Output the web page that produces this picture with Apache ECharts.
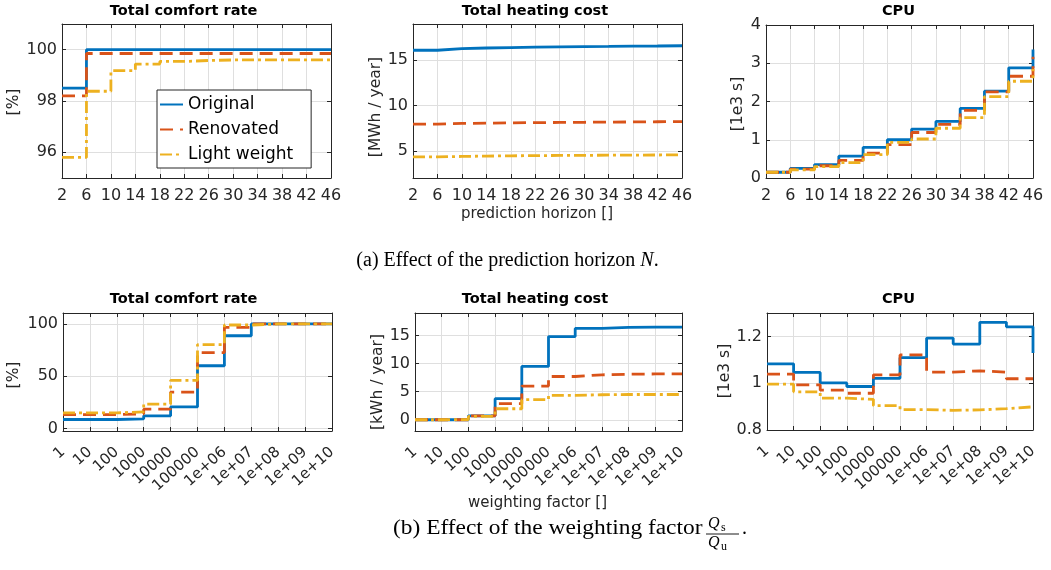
<!DOCTYPE html>
<html>
<head>
<meta charset="utf-8">
<script src="https://cdn.jsdelivr.net/npm/echarts@6/dist/echarts.min.js"></script>
<style>
  html, body { margin: 0; padding: 0; background: #fff; }
  #chart { width: 1051px; height: 570px; }
</style>
</head>
<body>
<div id="chart"></div>
<script>
// ---- Sweep over the prediction horizon N ----
const horizons = [2, 6, 10, 14, 18, 22, 26, 30, 34, 38, 42, 46];
const comfortOriginalN  = [98.5, 100, 100, 100, 100, 100, 100, 100, 100, 100, 100, 100];
const comfortRenovatedN = [98.2, 99.85, 99.85, 99.85, 99.85, 99.85, 99.85, 99.85, 99.85, 99.85, 99.85, 99.85];
const comfortLightN     = [95.8, 98.38, 99.18, 99.44, 99.54, 99.58, 99.6, 99.6, 99.6, 99.6, 99.6, 99.6];
const costOriginalN     = [16.1, 16.28, 16.35, 16.4, 16.44, 16.47, 16.5, 16.52, 16.55, 16.57, 16.6, 16.62];
const costRenovatedN    = [7.95, 8.02, 8.06, 8.09, 8.11, 8.13, 8.15, 8.17, 8.19, 8.21, 8.23, 8.24];
const costLightN        = [4.33, 4.38, 4.42, 4.45, 4.47, 4.49, 4.5, 4.52, 4.53, 4.54, 4.55, 4.56];
const cpuOriginalN      = [0.15, 0.25, 0.35, 0.57, 0.80, 1.0, 1.28, 1.48, 1.82, 2.27, 2.88, 3.36];
const cpuRenovatedN     = [0.15, 0.23, 0.32, 0.46, 0.65, 0.87, 1.19, 1.40, 1.77, 2.25, 2.66, 3.17];
const cpuLightN         = [0.15, 0.21, 0.30, 0.40, 0.61, 0.93, 1.02, 1.30, 1.58, 2.13, 2.53, 2.85];

// ---- Sweep over the weighting factor Qs/Qu ----
const weightLabels = ['1', '10', '100', '1000', '10000', '100000', '1e+06', '1e+07', '1e+08', '1e+09', '1e+10'];
const comfortOriginalW  = [8.5, 8.5, 9.2, 12, 20.6, 60, 88.7, 100, 100, 100, 100];
const comfortRenovatedW = [13.2, 13.2, 13.9, 18.4, 34.8, 72.6, 96.8, 100, 100, 100, 100];
const comfortLightW     = [14.8, 14.8, 15.8, 23.2, 46, 80.3, 99, 100, 100, 100, 100];
const costOriginalW     = [0, 0, 0.7, 3.75, 9.5, 14.8, 16.25, 16.45, 16.5, 16.5, 16.5];
const costRenovatedW    = [0, 0, 0.7, 2.86, 6.0, 7.7, 8.0, 8.1, 8.15, 8.15, 8.15];
const costLightW        = [0, 0.05, 0.6, 1.96, 3.57, 4.35, 4.45, 4.5, 4.5, 4.5, 4.5];
const cpuOriginalW      = [1.083, 1.046, 1.001, 0.986, 1.021, 1.109, 1.193, 1.167, 1.26, 1.241, 1.129];
const cpuRenovatedW     = [1.039, 0.993, 0.970, 0.957, 1.036, 1.121, 1.047, 1.053, 1.047, 1.019, 1.02];
const cpuLightW         = [0.996, 0.963, 0.936, 0.931, 0.904, 0.887, 0.884, 0.886, 0.891, 0.899, 0.90];

// ---- Y tick labels per panel ----
const comfortTicksN = [96, 98, 100];
const costTicksN    = [5, 10, 15];
const cpuTicksN     = [0, 1, 2, 3, 4];
const comfortTicksW = [0, 50, 100];
const costTicksW    = [0, 5, 10, 15];
const cpuTicksW     = [0.8, 1, 1.2];

const variantNames = ['Original', 'Renovated', 'Light weight'];

// ---- Styling ----
const SANS = 'DejaVu Sans';
const SERIF = 'Liberation Serif';
const INK = '#262626';
const GRIDLINE = '#dfdfdf';
const COLORS = ['#0072BD', '#D95319', '#EDB120'];
const DASHES = ['solid', [13, 7], [12, 4, 3, 4]];
const LINE_W = 2.8;

const panels = [
  { sweep: 'N', title: 'Total comfort rate', rect: [62, 24, 269, 154], y: [95, 101, 2], ticks: comfortTicksN,
    values: [comfortOriginalN, comfortRenovatedN, comfortLightN], titleAt: [183.5, 11],
    yName: '[%]', yNameAt: [14, 102] },
  { sweep: 'N', title: 'Total heating cost', rect: [413, 24, 269, 154], y: [2, 19, 5], ticks: costTicksN,
    values: [costOriginalN, costRenovatedN, costLightN], titleAt: [535, 11],
    yName: '[MWh / year]', yNameAt: [375.5, 107] },
  { sweep: 'N', title: 'CPU', rect: [766, 25, 267, 153], y: [0, 4, 1], ticks: cpuTicksN,
    values: [cpuOriginalN, cpuRenovatedN, cpuLightN], titleAt: [898.5, 11],
    yName: '[1e3 s]', yNameAt: [737.5, 104] },
  { sweep: 'W', title: 'Total comfort rate', rect: [63, 313, 269, 118], y: [-2.5, 110.5, 50], ticks: comfortTicksW,
    values: [comfortOriginalW, comfortRenovatedW, comfortLightW], titleAt: [183.5, 299.5],
    yName: '[%]', yNameAt: [14, 375] },
  { sweep: 'W', title: 'Total heating cost', rect: [415, 313, 267, 118], y: [-2, 19, 5], ticks: costTicksW,
    values: [costOriginalW, costRenovatedW, costLightW], titleAt: [535, 299.5],
    yName: '[kWh / year]', yNameAt: [377.5, 382] },
  { sweep: 'W', title: 'CPU', rect: [767, 313, 266, 117], y: [0.8, 1.3, 0.2], ticks: cpuTicksW,
    values: [cpuOriginalW, cpuRenovatedW, cpuLightW], titleAt: [898.5, 299.5],
    yName: '[1e3 s]', yNameAt: [724.5, 371] }
];

const grids = [], xAxes = [], yAxes = [], series = [], graphics = [];

function tickFormatter(list) {
  return function (v) {
    const hit = list.find(t => Math.abs(t - v) < 1e-9);
    return hit === undefined ? '' : String(hit);
  };
}

panels.forEach((p, i) => {
  const [left, top, width, height] = p.rect;
  grids.push({ left, top, width, height, containLabel: false });

  const axisLine = { show: true, onZero: false, lineStyle: { color: INK, width: 1 } };
  const axisTick = { show: true, inside: true, length: 4, interval: 0, lineStyle: { color: INK, width: 1 } };
  const splitLine = { show: true, interval: 0, lineStyle: { color: GRIDLINE, width: 1 } };

  const xBase = p.sweep === 'N'
    ? { type: 'value', min: 2, max: 46, interval: 4 }
    : { type: 'category', data: weightLabels, boundaryGap: false };

  const xLabel = p.sweep === 'N'
    ? { show: true, color: INK, fontFamily: SANS, fontSize: 16, margin: 10 }
    : { show: true, color: INK, fontFamily: SANS, fontSize: 15, rotate: 42, margin: 19, interval: 0, hideOverlap: false };

  xAxes.push(Object.assign({}, xBase, {
    gridIndex: i, position: 'bottom', axisLine, axisTick, splitLine, axisLabel: xLabel
  }));
  xAxes.push(Object.assign({}, xBase, {
    gridIndex: i, position: 'top', axisLine, axisTick,
    splitLine: { show: false }, axisLabel: { show: false }
  }));

  const yBase = { type: 'value', min: p.y[0], max: p.y[1], minInterval: p.y[2], maxInterval: p.y[2] };
  yAxes.push(Object.assign({}, yBase, {
    gridIndex: i, position: 'left', axisLine, axisTick, splitLine,
    axisLabel: { color: INK, fontFamily: SANS, fontSize: 16, margin: 5, formatter: tickFormatter(p.ticks) }
  }));
  yAxes.push(Object.assign({}, yBase, {
    gridIndex: i, position: 'right', axisLine, axisTick,
    splitLine: { show: false }, axisLabel: { show: false }
  }));

  p.values.forEach((vals, k) => {
    series.push({
      name: variantNames[k],
      type: 'line',
      step: 'end',
      xAxisIndex: 2 * i,
      yAxisIndex: 2 * i,
      data: p.sweep === 'N' ? horizons.map((h, j) => [h, vals[j]]) : vals,
      symbol: 'none',
      clip: false,
      z: 2 + k,
      lineStyle: { color: COLORS[k], width: LINE_W, type: DASHES[k] },
      itemStyle: { color: COLORS[k] },
      emphasis: { disabled: true }
    });
  });

  graphics.push({
    type: 'text', x: p.titleAt[0], y: p.titleAt[1], silent: true,
    style: { text: p.title, fill: '#000', font: `bold 14.5px "${SANS}"`, align: 'center', verticalAlign: 'middle' }
  });
  graphics.push({
    type: 'text', x: p.yNameAt[0], y: p.yNameAt[1], rotation: Math.PI / 2, silent: true,
    style: { text: p.yName, fill: INK, font: `15.5px "${SANS}"`, align: 'center', verticalAlign: 'middle' }
  });
});

// Shared x-axis names of the middle column
graphics.push({
  type: 'text', x: 537, y: 214, silent: true,
  style: { text: 'prediction horizon []', fill: INK, font: `15px "${SANS}"`, align: 'center', verticalAlign: 'middle' }
});
graphics.push({
  type: 'text', x: 537.5, y: 503, silent: true,
  style: { text: 'weighting factor []', fill: INK, font: `15px "${SANS}"`, align: 'center', verticalAlign: 'middle' }
});

// Sub-figure captions
graphics.push({
  type: 'text', x: 507.5, y: 261, silent: true,
  style: {
    text: '{r|(a) Effect of the prediction horizon }{i|N}{r|.}',
    rich: {
      r: { fontFamily: SERIF, fontSize: 20, fill: '#000' },
      i: { fontFamily: SERIF, fontSize: 20, fontStyle: 'italic', fill: '#000' }
    },
    align: 'center', verticalAlign: 'middle'
  }
});
graphics.push({
  type: 'text', x: 393, y: 529, scaleX: 1.17, silent: true,
  style: { text: '(b) Effect of the weighting factor', fill: '#000', font: `20px "${SERIF}"`, align: 'left', verticalAlign: 'middle' }
});
// Fraction Qs / Qu
const fracX = 708;
graphics.push({ type: 'text', x: fracX, y: 524, silent: true,
  style: { text: 'Q', fill: '#000', font: `italic 16px "${SERIF}"`, align: 'left', verticalAlign: 'middle' } });
graphics.push({ type: 'text', x: fracX + 13, y: 528, silent: true,
  style: { text: 's', fill: '#000', font: `12px "${SERIF}"`, align: 'left', verticalAlign: 'middle' } });
graphics.push({ type: 'line', silent: true,
  shape: { x1: fracX - 2, y1: 534, x2: fracX + 31, y2: 534 }, style: { stroke: '#000', lineWidth: 0.9 } });
graphics.push({ type: 'text', x: fracX, y: 543, silent: true,
  style: { text: 'Q', fill: '#000', font: `italic 16px "${SERIF}"`, align: 'left', verticalAlign: 'middle' } });
graphics.push({ type: 'text', x: fracX + 13, y: 547, silent: true,
  style: { text: 'u', fill: '#000', font: `12px "${SERIF}"`, align: 'left', verticalAlign: 'middle' } });
graphics.push({ type: 'text', x: fracX + 34, y: 529, silent: true,
  style: { text: '.', fill: '#000', font: `20px "${SERIF}"`, align: 'left', verticalAlign: 'middle' } });

const chart = echarts.init(document.getElementById('chart'), null, { renderer: 'canvas' });
chart.setOption({
  animation: false,
  backgroundColor: '#fff',
  grid: grids,
  xAxis: xAxes,
  yAxis: yAxes,
  series: series,
  legend: {
    data: variantNames,
    orient: 'vertical',
    left: 157,
    top: 90,
    itemWidth: 23,
    itemHeight: 14,
    itemGap: 8,
    padding: [6, 18, 5, 2],
    backgroundColor: '#fff',
    borderColor: INK,
    borderWidth: 1,
    borderRadius: 0,
    itemStyle: { opacity: 0 },
    textStyle: { fontFamily: SANS, fontSize: 17, color: '#000' }
  },
  graphic: graphics
});
</script>
</body>
</html>
